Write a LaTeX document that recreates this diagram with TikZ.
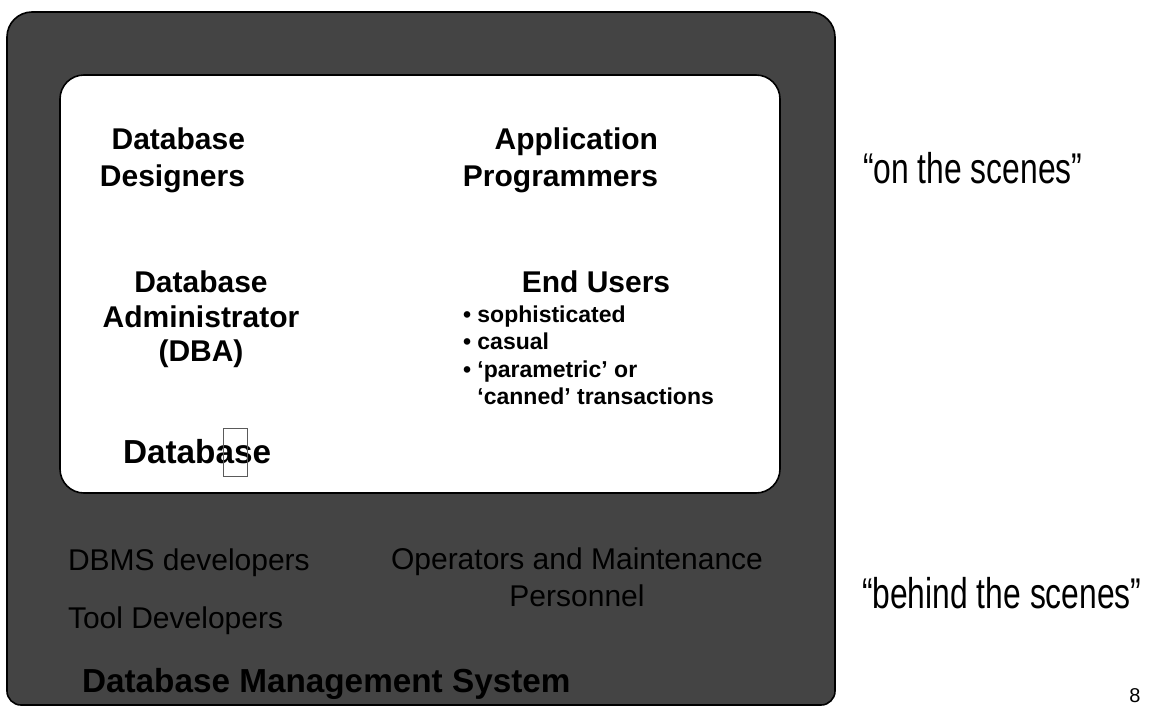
\documentclass[tikz,border=0pt]{standalone}
\usepackage{fontspec}
\setmainfont{Liberation Sans}
\newfontfamily\narrowfont[FakeStretch=0.74]{Liberation Sans}
\definecolor{dbmsgray}{RGB}{68,68,68}
\definecolor{markgray}{RGB}{90,90,90}
\tikzset{
  txt/.style={inner sep=0pt, outer sep=0pt, text=black},
  headb/.style={txt, font=\fontsize{30}{36}\selectfont\bfseries},
  itemb/.style={txt, font=\fontsize{23}{27}\selectfont\bfseries},
  plainl/.style={txt, font=\fontsize{30}{36}\selectfont},
  bigb/.style={txt, font=\fontsize{33.3}{40}\selectfont\bfseries},
  sidenote/.style={txt, font=\fontsize{43}{50}\selectfont\narrowfont},
  pagenum/.style={txt, font=\fontsize{20}{24}\selectfont},
}
\begin{document}
\begin{tikzpicture}[x=1pt, y=-1pt]
\useasboundingbox (0,0) rectangle (1156,707);

% outer DBMS panel (behind the scenes)
\draw[line width=1.6pt, fill=dbmsgray]
  (7,400) [rounded corners=25pt] -- (7,12) -- (835,12) -- (835,400)
  [rounded corners=14pt] -- (835,705) -- (7,705) -- (7,400) -- cycle;

% inner panel (on the scenes)
\draw[line width=1.6pt, fill=white, rounded corners=24pt] (60,75) rectangle (780,493);

% users on the scenes
\node[headb, anchor=base east] (dd1) at (245,149) {Database};
\node[headb, anchor=base east] (dd2) at (245,186) {Designers};
\node[headb, anchor=base east] (ap1) at (658,149) {Application};
\node[headb, anchor=base east] (ap2) at (658,186) {Programmers};

\node[headb, anchor=base] (dba1) at (201,292) {Database};
\node[headb, anchor=base] (dba2) at (201,327) {Administrator};
\node[headb, anchor=base] (dba3) at (201,361) {(DBA)};

\node[headb, anchor=base] (eu) at (596,292) {End Users};
\node[itemb, anchor=base west] (eu1) at (463,322) {• sophisticated};
\node[itemb, anchor=base west] (eu2) at (463,349.5) {• casual};
\node[itemb, anchor=base west] (eu3) at (463,377) {• ‘parametric’ or};
\node[itemb, anchor=base west] (eu4) at (463,404.5) {\phantom{• }‘canned’ transactions};

\node[bigb, anchor=base west] (db) at (123,463) {Database};
\draw[markgray, line width=0.8pt] (223,428) rectangle (247,476);

% people behind the scenes
\node[plainl, anchor=base west] (dev) at (68,570) {DBMS developers};
\node[plainl, anchor=base west] (tool) at (68,628) {Tool Developers};
\node[plainl, anchor=base] (op1) at (577,569) {Operators and Maintenance};
\node[plainl, anchor=base] (op2) at (577,606) {Personnel};
\node[bigb, anchor=base west] (dbms) at (82,692) {Database Management System};

% side notes
\node[sidenote, anchor=base west] (on) at (863,183) {“on the scenes”};
\node[sidenote, anchor=base west] (behind) at (862,608) {“behind the scenes”};
\node[pagenum, anchor=base] (pg) at (1135,702) {8};
\end{tikzpicture}
\end{document}
